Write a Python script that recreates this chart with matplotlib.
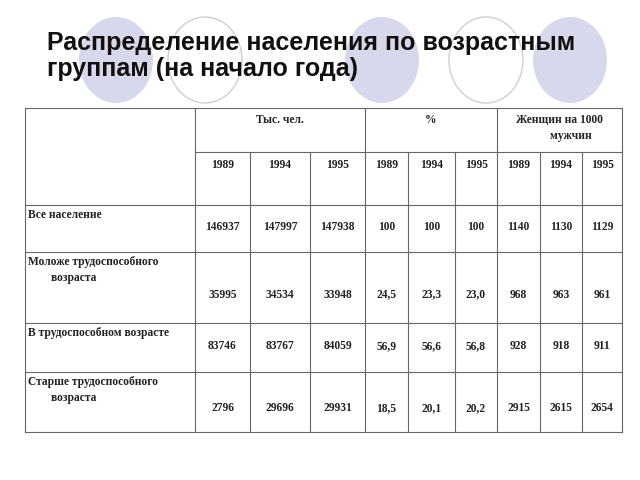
import matplotlib.pyplot as plt
from matplotlib.patches import Ellipse

title = "Распределение населения по возрастным\nгруппам (на начало года)"
groups = ["Тыс. чел.", "%", "Женщин на 1000\n        мужчин"]
years = ["1989", "1994", "1995"]
row_labels = ["Все население",
              "Моложе трудоспособного\n        возраста",
              "В трудоспособном возрасте",
              "Старше трудоспособного\n        возраста"]
thousands = [["146937", "147997", "147938"],
             ["35995", "34534", "33948"],
             ["83746", "83767", "84059"],
             ["2796", "29696", "29931"]]
percent = [["100", "100", "100"],
           ["24,5", "23,3", "23,0"],
           ["56,9", "56,6", "56,8"],
           ["18,5", "20,1", "20,2"]]
women = [["1140", "1130", "1129"],
         ["968", "963", "961"],
         ["928", "918", "911"],
         ["2915", "2615", "2654"]]

fig = plt.figure(figsize=(6.4, 4.8), dpi=100)
ax = fig.add_axes([0, 0, 1, 1])
ax.set_xlim(0, 640)
ax.set_ylim(480, 0)
ax.axis("off")

# decorative circles
for cx, filled in [(116, True), (205, False), (382, True), (486, False), (570, True)]:
    if filled:
        ax.add_patch(Ellipse((cx, 60), 74, 86, facecolor="#d8d8ec", edgecolor="none"))
    else:
        ax.add_patch(Ellipse((cx, 60), 74, 86, facecolor="white", edgecolor="#cfcfcf", lw=1))

ax.text(47, 56, title, fontsize=18, fontweight="bold", family="Liberation Sans",
        va="center", ha="left", linespacing=1.1, color="#111111")

# table grid
xs = [25, 195, 250, 310, 365, 408, 455, 497, 540, 582, 622]
ys = [108, 152, 205, 252, 323, 372, 432]
lw = 0.8
ax.plot([xs[0], xs[-1]], [ys[0], ys[0]], color="#666666", lw=lw)
ax.plot([xs[0], xs[-1]], [ys[-1], ys[-1]], color="#666666", lw=lw)
ax.plot([xs[1], xs[-1]], [ys[1], ys[1]], color="#666666", lw=lw)
for y in ys[2:-1]:
    ax.plot([xs[0], xs[-1]], [y, y], color="#666666", lw=lw)
for i, x in enumerate(xs):
    top = ys[1] if i not in (0, 1, 4, 7, 10) else ys[0]
    ax.plot([x, x], [top, ys[-1]], color="#666666", lw=lw)

font = dict(family="Liberation Serif", fontweight="bold", fontsize=8.3, color="#222222")
for g, name in enumerate(groups):
    x0, x1 = xs[1 + 3 * g], xs[4 + 3 * g]
    ax.text((x0 + x1) / 2, 114, name, ha="center", va="top", linespacing=1.5, **font)
    for k, yr in enumerate(years):
        xa, xb = xs[1 + 3 * g + k], xs[2 + 3 * g + k]
        ax.text((xa + xb) / 2, 159, yr, ha="center", va="top", **font)

for r, label in enumerate(row_labels):
    ax.text(xs[0] + 3, ys[2 + r] + 4, label, ha="left", va="top", linespacing=1.5, **font)
    vals = thousands[r] + percent[r] + women[r]
    ymid = ys[2 + r] + (ys[3 + r] - ys[2 + r]) * (0.47 if r in (0, 2) else 0.6)
    for c, v in enumerate(vals):
        ax.text((xs[1 + c] + xs[2 + c]) / 2, ymid, v, ha="center", va="center", **font)

fig.savefig("out.png", dpi=100)
